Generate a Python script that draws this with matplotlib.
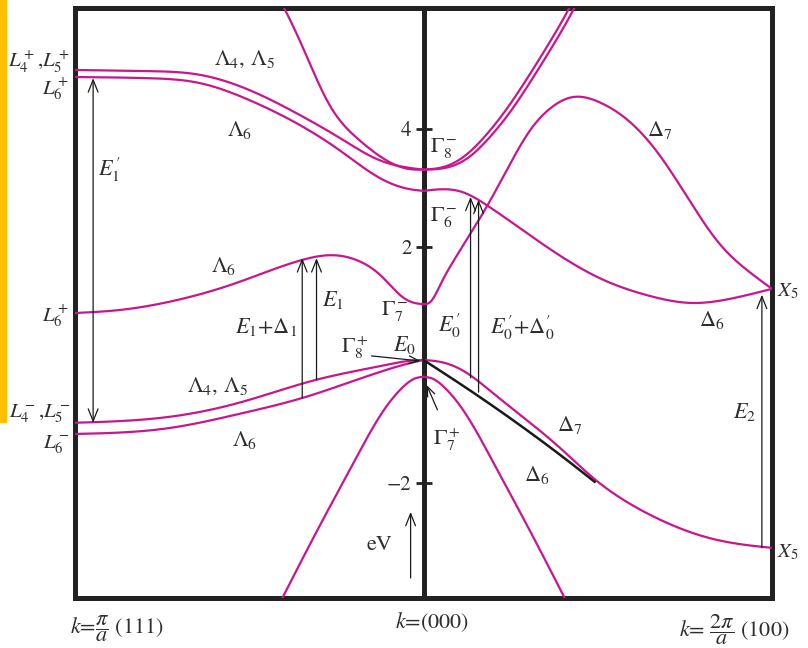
import numpy as np
import matplotlib
matplotlib.use("Agg")
import matplotlib.pyplot as plt
from matplotlib.patches import Rectangle

plt.rcParams['font.family'] = 'STIXGeneral'
plt.rcParams['mathtext.fontset'] = 'stix'

BAND = '#c8178c'
INK = '#2e2e2e'
FRAME = '#222222'

# ---- band energies (eV); k<0 runs L -> Gamma, k>0 runs Gamma -> X ----
# Lambda direction, conduction bands
k_c_lam45 = [-1.0, -0.787, -0.644, -0.50, -0.356, -0.241, -0.126, -0.040, 0.0]
E_c_lam45 = [5.00, 4.98, 4.92, 4.66, 4.24, 3.85, 3.47, 3.34, 3.31]
k_c_lam6 = [-1.0, -0.787, -0.644, -0.50, -0.356, -0.241, -0.126, -0.040, 0.0]
E_c_lam6 = [4.88, 4.86, 4.78, 4.49, 4.07, 3.64, 3.17, 2.98, 2.95]
k_c_steep = [-0.43, -0.356, -0.270, -0.184, -0.098, -0.040, 0.0]
E_c_steep = [6.40, 5.51, 4.41, 3.81, 3.44, 3.32, 3.31]
k_c_low = [-1.0, -0.874, -0.730, -0.537, -0.348, -0.270, -0.193, -0.118, -0.060, -0.025, 0.0]
E_c_low = [0.88, 0.93, 1.07, 1.39, 1.78, 1.86, 1.78, 1.49, 1.15, 1.05, 1.03]

# Lambda direction, valence bands
k_v_lam45 = [-1.0, -0.730, -0.529, -0.307, -0.126, -0.040, 0.0]
E_v_lam45 = [-0.98, -0.88, -0.64, -0.25, -0.02, 0.07, 0.085]
k_v_lam6 = [-1.0, -0.730, -0.529, -0.348, -0.126, -0.040, 0.0]
E_v_lam6 = [-1.17, -1.07, -0.83, -0.56, -0.12, 0.03, 0.085]
k_v_so_l = [-0.43, -0.405, -0.30, -0.20, -0.12, -0.06, -0.025, 0.0]
E_v_so_l = [-4.24, -3.95, -2.75, -1.65, -0.82, -0.38, -0.23, -0.20]

# Delta direction, conduction bands
k_c_g8a = [0.0, 0.06, 0.12, 0.18, 0.24, 0.30, 0.36, 0.42, 0.44]
E_c_g8a = [3.31, 3.36, 3.55, 3.90, 4.35, 4.88, 5.45, 6.07, 6.30]
k_c_g8b = [0.0, 0.07, 0.13, 0.19, 0.25, 0.31, 0.37, 0.43, 0.45]
E_c_g8b = [3.31, 3.35, 3.52, 3.86, 4.30, 4.83, 5.40, 6.02, 6.25]
k_c_d6 = [0.0, 0.112, 0.181, 0.305, 0.506, 0.649, 0.773, 0.879, 1.0]
E_c_d6 = [2.95, 2.93, 2.71, 2.20, 1.47, 1.17, 1.05, 1.12, 1.29]
k_c_d7 = [0.0, 0.02, 0.05, 0.09, 0.184, 0.247, 0.305, 0.362, 0.428, 0.506,
          0.592, 0.678, 0.764, 0.850, 0.930, 1.0]
E_c_d7 = [1.03, 1.07, 1.38, 1.80, 2.71, 3.39, 3.97, 4.34, 4.54, 4.45,
          4.12, 3.55, 2.78, 2.05, 1.60, 1.29]

# Delta direction, valence bands
k_v_d7 = [0.0, 0.05, 0.12, 0.20, 0.30, 0.40, 0.49, 0.60, 0.70, 0.80, 0.90, 1.0]
E_v_d7 = [0.085, 0.05, -0.12, -0.48, -0.95, -1.45, -1.93, -2.38, -2.68, -2.90, -3.03, -3.10]
k_v_d6 = [0.0, 0.10, 0.20, 0.30, 0.40, 0.491]
E_v_d6 = [0.085, -0.30, -0.70, -1.12, -1.56, -1.98]
k_v_so_r = [0.0, 0.025, 0.06, 0.12, 0.20, 0.30, 0.405, 0.43]
E_v_so_r = [-0.20, -0.23, -0.38, -0.82, -1.65, -2.75, -3.95, -4.24]

# ---- transitions: (k, E_from, E_to) ----
E1p = (-0.948, -0.98, 4.86)
E1D1 = (-0.348, -0.56, 1.81)
E1 = (-0.307, -0.25, 1.81)
E0p = (0.135, -0.22, 2.85)
E0pD0p = (0.158, -0.46, 2.80)
E2 = (0.971, -3.10, 1.19)

yticks = [-2, 2, 4]


def spline(k, e, n=400):
    """Natural cubic spline through the listed (k, E) points."""
    x = np.asarray(k, float)
    y = np.asarray(e, float)
    m = len(x)
    h = np.diff(x)
    A = np.zeros((m, m))
    b = np.zeros(m)
    A[0, 0] = A[-1, -1] = 1.0
    for i in range(1, m - 1):
        A[i, i - 1] = h[i - 1]
        A[i, i] = 2 * (h[i - 1] + h[i])
        A[i, i + 1] = h[i]
        b[i] = 6 * ((y[i + 1] - y[i]) / h[i] - (y[i] - y[i - 1]) / h[i - 1])
    M = np.linalg.solve(A, b)
    xs = np.linspace(x[0], x[-1], n)
    j = np.clip(np.searchsorted(x, xs) - 1, 0, m - 2)
    t0 = xs - x[j]
    t1 = x[j + 1] - xs
    hj = h[j]
    ys = (M[j] * t1 ** 3 / (6 * hj) + M[j + 1] * t0 ** 3 / (6 * hj)
          + (y[j] / hj - M[j] * hj / 6) * t1 + (y[j + 1] / hj - M[j + 1] * hj / 6) * t0)
    return xs, ys


fig = plt.figure(figsize=(8.08, 6.48), dpi=100)
fig.patches.append(Rectangle((0, 1 - 422 / 648), 6 / 808, 422 / 648,
                             transform=fig.transFigure, color='#ffc000', zorder=0))
ax = fig.add_axes([75 / 808, 50 / 648, 697 / 808, 590 / 648])
ax.set_xlim(-1, 1)
ax.set_ylim(-3.95, 6.05)
ax.set_xticks([])
ax.set_yticks([])
for s in ax.spines.values():
    s.set_linewidth(3.6)
    s.set_color(FRAME)

bands = [
    (k_c_lam45, E_c_lam45), (k_c_lam6, E_c_lam6), (k_c_steep, E_c_steep),
    (k_c_low, E_c_low), (k_v_lam45, E_v_lam45), (k_v_lam6, E_v_lam6),
    (k_v_so_l, E_v_so_l), (k_c_g8a, E_c_g8a), (k_c_g8b, E_c_g8b),
    (k_c_d6, E_c_d6), (k_c_d7, E_c_d7), (k_v_d7, E_v_d7), (k_v_so_r, E_v_so_r),
]
for kk, ee in bands:
    xs, ys = spline(kk, ee)
    ax.plot(xs, ys, color=BAND, lw=1.6, solid_capstyle='round', zorder=3)

xs, ys = spline(k_v_d6, E_v_d6)
ax.plot(xs, ys, color='#1a1a1a', lw=1.8, zorder=4)

# central energy axis with ticks
sec = ax.secondary_yaxis(0.5)
sec.set_alignment('left')
sec.spines['left'].set_linewidth(3.6)
sec.spines['left'].set_color(FRAME)
sec.set_yticks(yticks)
sec.tick_params(direction='inout', length=11, width=2.0, color=FRAME,
                labelsize=15, labelcolor=INK, pad=3)

arrow_kw = dict(color='#1a1a1a', lw=0.9, shrinkA=0, shrinkB=0)


def arrow(k, e0, e1, style='->,head_length=0.55,head_width=0.22'):
    ax.annotate('', xy=(k, e1), xytext=(k, e0),
                arrowprops=dict(arrowstyle=style, mutation_scale=16, **arrow_kw), zorder=5)


arrow(*E1p, style='<->,head_length=0.55,head_width=0.22')
for tr in (E1D1, E1, E0p, E0pD0p, E2):
    arrow(*tr)
# energy direction indicator
arrow(-0.037, -3.61, -2.49)
# pointers to the zone-centre states
ax.annotate('', xy=(-0.009, 0.068), xytext=(-0.149, 0.153),
            arrowprops=dict(arrowstyle='->,head_length=0.5,head_width=0.2',
                            mutation_scale=14, **arrow_kw))
ax.annotate('', xy=(0.009, -0.34), xytext=(0.040, -0.76),
            arrowprops=dict(arrowstyle='->,head_length=0.5,head_width=0.2',
                            mutation_scale=14, **arrow_kw))

FS = 16
labels = [
    (r'$\Lambda_4,\,\Lambda_5$', -0.514, 5.17),
    (r'$\Lambda_6$', -0.529, 3.98),
    (r'$\Lambda_6$', -0.575, 1.68),
    (r'$E_1$+$\Delta_1$', -0.451, 0.64),
    (r'$E_1$', -0.261, 1.10),
    (r'$\Gamma_7^-$', -0.083, 0.92),
    (r'$E_0$', -0.055, 0.34),
    (r'$\Gamma_8^+$', -0.198, 0.29),
    (r'$\Lambda_4,\,\Lambda_5$', -0.592, -0.37),
    (r'$\Lambda_6$', -0.514, -1.27),
    (r"$E_1^{\,\prime}$", -0.902, 3.31),
    (r'$\Gamma_8^-$', 0.057, 3.68),
    (r'$\Gamma_6^-$', 0.057, 2.51),
    (r"$E_0^{\,\prime}$", 0.075, 0.66),
    (r"$E_0^{\,\prime}$+$\Delta_0^{\prime}$", 0.282, 0.62),
    (r'$\Delta_7$', 0.678, 3.98),
    (r'$\Delta_6$', 0.828, 0.76),
    (r'$E_2$', 0.922, -0.80),
    (r'$\Delta_7$', 0.420, -1.02),
    (r'$\Delta_6$', 0.325, -1.86),
    (r'$\Gamma_7^+$', 0.066, -1.27),
    ('eV', -0.126, -3.05),
]
for s, x, y in labels:
    ax.text(x, y, s, fontsize=FS, color=INK, ha='center', va='center', zorder=6)

side = [
    (r'$L_4^+$,$L_5^+$', -1.015, 5.14, 'right'),
    (r'$L_6^+$', -1.015, 4.69, 'right'),
    (r'$L_6^+$', -1.015, 0.83, 'right'),
    (r'$L_4^-$,$L_5^-$', -1.015, -0.83, 'right'),
    (r'$L_6^-$', -1.015, -1.36, 'right'),
    (r'$X_5$', 1.014, 1.24, 'left'),
    (r'$X_5$', 1.014, -3.17, 'left'),
]
for s, x, y, ha in side:
    ax.text(x, y, s, fontsize=15, color=INK, ha=ha, va='center', clip_on=False)

bottom = [
    (r'$k$=$\dfrac{\pi}{a}$ (111)', -0.879, -4.46),
    (r'$k$=(000)', 0.026, -4.36),
    (r'$k$= $\dfrac{2\pi}{a}$ (100)', 0.891, -4.49),
]
for s, x, y in bottom:
    ax.text(x, y, s, fontsize=FS, color=INK, ha='center', va='center', clip_on=False)

fig.savefig('out.png', dpi=100, facecolor='white')
